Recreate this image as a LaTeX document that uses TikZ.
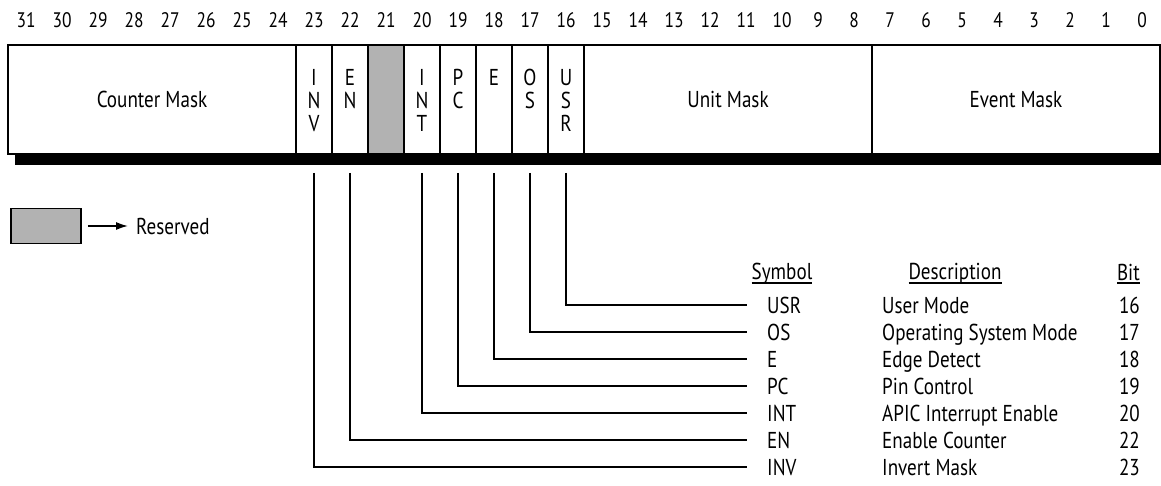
\documentclass[tikz,border=0pt]{standalone}
\usepackage{fontspec}
\setmainfont{PT Sans}[FakeStretch=0.83]
\usetikzlibrary{arrows.meta,positioning}
\newcommand\ulhead[1]{\setbox0\hbox{#1}\rlap{\rule[-4pt]{\wd0}{1.8pt}}\box0}

\begin{document}
\begin{tikzpicture}[x=1pt,y=-1pt,
  every node/.style={font=\fontsize{23}{23}\selectfont, inner sep=0pt},
  field/.style={draw, line width=2.2pt, outer sep=0pt, anchor=north west, minimum height=109pt},
  vlbl/.style={anchor=north, align=center},
  link/.style={line width=2.5pt},
  ent/.style={anchor=west, text height=16pt, text depth=0pt},
  bitno/.style={anchor=east, text height=16pt, text depth=0pt}]
\useasboundingbox (0,0) rectangle (1161,486);
% bit numbers
\foreach \b in {0,...,31}
  \node[font=\fontsize{21}{21}\selectfont] (n\b) at ({26+(31-\b)*36},20) {\b};
% shadow under the register
\fill (15,154) rectangle (1170,165);
% wide fields
\foreach \nm/\msb/\w/\txt in {cmask/31/8/Counter Mask, umask/15/8/Unit Mask, emask/7/8/Event Mask} {
  \pgfmathsetmacro{\xl}{8+(31-\msb)*36}
  \pgfmathsetmacro{\fw}{\w*36}
  \node[field, minimum width=\fw pt] (\nm) at (\xl,45) {\txt};
}
% one-bit fields
\foreach \nm/\b/\txt in {inv/23/{I\\N\\V}, en/22/{E\\N}, int/20/{I\\N\\T}, pc/19/{P\\C}, edge/18/E, os/17/{O\\S}, usr/16/{U\\S\\R}} {
  \pgfmathsetmacro{\xl}{8+(31-\b)*36}
  \node[field, minimum width=36pt] (\nm) at (\xl,45) {};
  \node[vlbl] at ([yshift=-24pt]\nm.north) {\txt};
}
\node[field, minimum width=36pt, fill=black!30] (rsvd) at (368,45) {};
% key
\node[draw, fill=black!30, line width=1.8pt, minimum width=70pt, minimum height=35pt] (key) at (46,226) {};
\node[anchor=west] (resv) at (136,226) {Reserved};
\draw[line width=1.6pt, -{Latex[length=12pt,width=8pt]}] ([xshift=6pt]key.east) -- ([xshift=-8pt]resv.west);
% table
\node (hsym) at (782,274) {\ulhead{Symbol}};
\node (hdesc) at (955,274) {\ulhead{Description}};
\node[anchor=east] (hbit) at (1140,274) {\ulhead{Bit}};
\foreach \nm/\sym/\desc/\bit [count=\i from 0] in {usr/USR/User Mode/16, os/OS/Operating System Mode/17, edge/E/Edge Detect/18, pc/PC/Pin Control/19, int/INT/APIC Interrupt Enable/20, en/EN/Enable Counter/22, inv/INV/Invert Mask/23} {
  \node[ent] (s\nm) at (767,{305+27*\i}) {\sym};
  \node[ent] (d\nm) at (882,{305+27*\i}) {\desc};
  \node[bitno] (b\nm) at (1140,{305+27*\i}) {\bit};
  \draw[link] ([yshift=-19pt]\nm.south) |- ([xshift=-20pt]s\nm.west);
}
\end{tikzpicture}
\end{document}
